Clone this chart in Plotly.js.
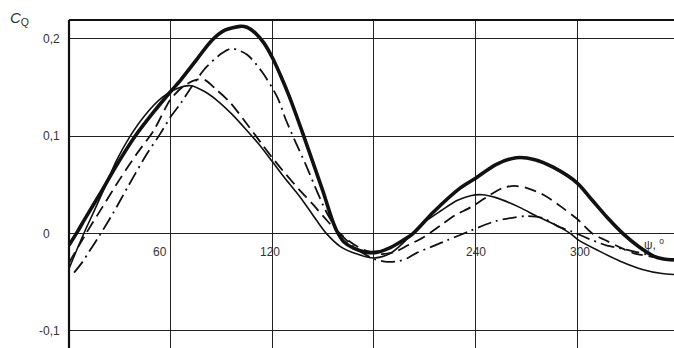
<!DOCTYPE html>
<html>
<head>
<meta charset="utf-8">
<script src="https://cdn.plot.ly/plotly-3.0.1.min.js"></script>
<style>html,body{margin:0;padding:0;background:#fff;}#chart{width:674px;height:348px;}</style>
</head>
<body>
<div id="chart"></div>
<script>
// Thick solid curve
const thickPsi = [0, 5, 10, 18, 28, 39, 50, 60, 66, 75, 84, 92, 101, 105, 110, 115, 120, 125, 130, 138, 145, 150, 155, 158, 162, 168, 175, 182, 190, 197, 203, 215, 231, 240, 252, 264, 275, 286, 300, 309, 318, 327, 336, 345, 351, 357.1];
const thickCq  = [-0.012, 0.002, 0.017, 0.04, 0.07, 0.1, 0.125, 0.146, 0.158, 0.178, 0.198, 0.209, 0.213, 0.212, 0.206, 0.196, 0.181, 0.162, 0.141, 0.103, 0.068, 0.043, 0.016, 0.003, -0.008, -0.015, -0.019, -0.019, -0.014, -0.007, 0.0, 0.022, 0.047, 0.057, 0.071, 0.078, 0.076, 0.068, 0.052, 0.034, 0.016, 0.0, -0.013, -0.023, -0.026, -0.027];

// Thin solid curve
const thinPsi = [0, 5, 10, 20, 28, 36, 45, 55, 65, 72, 80, 88, 96, 105, 112, 120, 127, 134, 140, 146, 152, 160, 170, 180, 190, 200, 210, 220, 229, 237, 244, 252, 266, 276, 286, 296, 301, 313, 325, 339, 350, 357.1];
const thinCq  = [-0.036, -0.015, 0.005, 0.043, 0.075, 0.1, 0.122, 0.14, 0.15, 0.152, 0.146, 0.136, 0.123, 0.106, 0.092, 0.074, 0.058, 0.043, 0.029, 0.014, 0.0, -0.013, -0.021, -0.025, -0.02, -0.005, 0.012, 0.024, 0.034, 0.039, 0.04, 0.037, 0.027, 0.018, 0.01, 0.0, -0.007, -0.018, -0.028, -0.037, -0.041, -0.042];

// Dashed curve
const dashPsi = [0, 10, 20, 30, 40, 50, 60, 68, 75, 80, 87, 95, 104, 113, 120, 128, 136, 144, 152, 160, 168, 176, 184, 192, 200, 209, 219, 228, 237, 246, 256, 263, 270, 280, 291, 300, 309, 317, 325, 333, 345];
const dashCq  = [-0.03, 0.0, 0.028, 0.056, 0.082, 0.106, 0.138, 0.152, 0.158, 0.158, 0.148, 0.135, 0.115, 0.094, 0.078, 0.061, 0.045, 0.03, 0.014, 0.0, -0.011, -0.018, -0.021, -0.019, -0.012, -0.004, 0.008, 0.019, 0.027, 0.037, 0.047, 0.049, 0.047, 0.04, 0.027, 0.015, 0.0, -0.007, -0.014, -0.02, -0.024];

// Dash-dot curve
const dotPsi = [3, 8, 12, 18, 26, 35, 46, 54, 60, 66, 72, 81, 90, 96, 105, 114, 123, 128, 134, 140, 146, 152, 160, 170, 180, 188, 195, 200, 205, 216, 223, 237, 252, 270, 280, 288, 297, 305, 317, 325, 335, 345];
const dotCq  = [-0.04, -0.029, -0.018, -0.002, 0.021, 0.049, 0.082, 0.103, 0.12, 0.134, 0.15, 0.171, 0.185, 0.19, 0.184, 0.166, 0.14, 0.117, 0.093, 0.07, 0.045, 0.022, 0.0, -0.016, -0.026, -0.029, -0.028, -0.025, -0.02, -0.012, -0.007, 0.003, 0.013, 0.018, 0.016, 0.008, 0.002, -0.004, -0.012, -0.015, -0.019, -0.023];

const xTickVals = [60, 120, 180, 240, 300];
const xLabelVals = [54, 118.5, 240, 301.5];
const xLabelText = ["60", "120", "240", "300"];
const yTickVals = [-0.1, 0, 0.1, 0.2];
const yTickText = ["-0,1", "0", "0,1", "0,2"];

const ink = "#111";
function tr(x, y, w, dash) {
  return {x: x, y: y, type: "scatter", mode: "lines", hoverinfo: "skip",
    line: {color: ink, width: w, dash: dash, shape: "spline", smoothing: 0.8}};
}
const data = [
  tr(thinPsi, thinCq, 1.6, "solid"),
  tr(dashPsi, dashCq, 1.8, "12px,6px"),
  tr(dotPsi, dotCq, 1.8, "14px,5px,2px,5px"),
  tr(thickPsi, thickCq, 3.6, "solid")
];

const font = {family: "Liberation Sans, Arial, sans-serif", size: 12, color: "#333"};
const annotations = [];
yTickText.forEach((t, i) => {
  const isZero = yTickVals[i] === 0;
  annotations.push({xref: "paper", yref: "y", x: isZero ? -0.037 : -0.011, y: yTickVals[i],
    xanchor: isZero ? "center" : "right", yanchor: "middle", text: t, showarrow: false, font: font});
});
xLabelText.forEach((t, i) => {
  annotations.push({xref: "x", yref: "y", x: xLabelVals[i], y: -0.0185, xanchor: "center", yanchor: "middle",
    text: t, showarrow: false, font: font});
});
annotations.push({xref: "x", yref: "y", x: 345, y: -0.011, xanchor: "center", yanchor: "middle",
  text: "ψ, <sup>o</sup>", showarrow: false, font: {family: font.family, size: 12, color: "#333"}});
annotations.push({xref: "paper", yref: "paper", x: -0.101, y: 1.005, xanchor: "left", yanchor: "middle",
  text: "<i>C</i><sub>Q</sub>", showarrow: false, font: {family: font.family, size: 15, color: "#333"}});

const layout = {
  width: 674, height: 348,
  margin: {l: 69, r: 0, t: 20, b: 0, pad: 0},
  paper_bgcolor: "#fff", plot_bgcolor: "#fff",
  showlegend: false,
  xaxis: {range: [0, 357.1], tickvals: xTickVals, showticklabels: false, ticks: "",
    showgrid: true, gridcolor: "#222", gridwidth: 1, zeroline: false, showline: false, fixedrange: true},
  yaxis: {range: [-0.1175, 0.2195], tickvals: yTickVals, showticklabels: false, ticks: "",
    showgrid: true, gridcolor: "#222", gridwidth: 1, zeroline: false, showline: false, fixedrange: true},
  shapes: [
    {type: "line", xref: "paper", yref: "paper", x0: 0, x1: 0, y0: 0, y1: 1, line: {color: ink, width: 2.2}},
    {type: "line", xref: "paper", yref: "paper", x0: 0, x1: 1, y0: 1, y1: 1, line: {color: ink, width: 2.2}}
  ],
  annotations: annotations
};

Plotly.newPlot("chart", data, layout, {staticPlot: true, displayModeBar: false});
</script>
</body>
</html>
